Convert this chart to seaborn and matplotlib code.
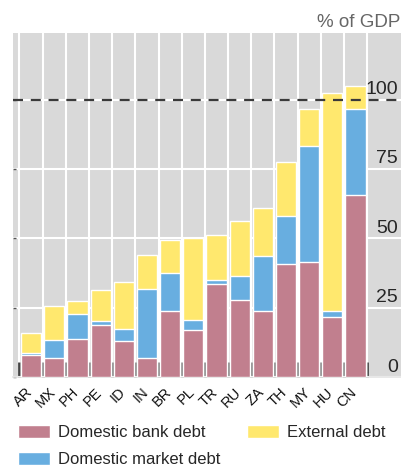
import matplotlib
matplotlib.use("Agg")
import matplotlib.pyplot as plt
import matplotlib.transforms as mtransforms
import numpy as np
import pandas as pd
import seaborn as sns

# values, % of GDP
countries = ["AR", "MX", "PH", "PE", "ID", "IN", "BR", "PL", "TR", "RU", "ZA", "TH", "MY", "HU", "CN"]
bank_debt = [7.9, 7.0, 13.7, 18.8, 13.0, 7.0, 23.8, 17.0, 33.6, 27.8, 23.8, 40.8, 41.5, 21.7, 65.7]
market_debt = [0.8, 6.4, 9.0, 1.4, 4.3, 24.8, 13.7, 3.6, 1.4, 8.7, 19.9, 17.3, 41.6, 2.1, 31.0]
external_debt = [7.0, 12.2, 4.7, 11.2, 17.0, 12.2, 12.0, 29.6, 16.3, 19.8, 17.3, 19.5, 13.6, 78.4, 8.3]
y_ticks = [0, 25, 50, 75, 100]

c_bank = "#c17f8e"
c_market = "#68aee0"
c_ext = "#ffe86e"

df = pd.DataFrame({"country": countries, "bank": bank_debt,
                   "market": market_debt, "external": external_debt})
df["bank_market"] = df["bank"] + df["market"]
df["total"] = df["bank_market"] + df["external"]

sns.set_theme(style="white")
plt.rcParams["font.family"] = ["Liberation Sans", "DejaVu Sans"]

fig = plt.figure(figsize=(4.01, 4.69), dpi=100)
ax = fig.add_axes([13 / 401, 92 / 469, 388 / 401, 344 / 469])
ax.set_facecolor("#d9d9d9")

# stacked bars drawn as overlapping cumulative heights
sns.barplot(data=df, x="country", y="total", color=c_ext, width=0.87,
            saturation=1, ax=ax, label="External debt", zorder=3)
sns.barplot(data=df, x="country", y="bank_market", color=c_market, width=0.87,
            saturation=1, ax=ax, label="Domestic market debt", zorder=3)
sns.barplot(data=df, x="country", y="bank", color=c_bank, width=0.87,
            saturation=1, ax=ax, label="Domestic bank debt", zorder=3)
handles, labels = ax.get_legend_handles_labels()
if ax.get_legend() is not None:
    ax.get_legend().remove()

n = len(countries)
ax.set_xlim(-0.78, n + 0.96)
ax.set_ylim(0, 124)
ax.set_xlabel("")
ax.set_ylabel("")
for s in ax.spines.values():
    s.set_visible(False)
ax.spines["bottom"].set_visible(True)
ax.spines["bottom"].set_color("#e4e4e4")
ax.spines["bottom"].set_linewidth(1.2)

# grid: white lines at category boundaries and y ticks
ax.set_xticks(np.arange(n))
ax.set_xticks(np.arange(n + 1) - 0.5, minor=True)
ax.set_yticks(y_ticks)
ax.grid(False)
ax.grid(True, axis="x", which="minor", color="white", lw=1.5, zorder=1)
ax.grid(True, axis="y", which="major", color="white", lw=1.5, zorder=1)
ax.set_axisbelow(True)
ax.axhline(100, color="#3a3a3a", lw=1.6, ls=(0, (4.5, 3.5)), zorder=4)

ax.tick_params(axis="x", which="major", length=0, pad=0, labelsize=10.5, labelcolor="#111111")
ax.tick_params(axis="x", which="minor", direction="in", length=11, width=2, color="#444444",
               bottom=True)
ax.set_xticklabels(countries, rotation=45, ha="right", va="center", rotation_mode="anchor")
for lab in ax.get_xticklabels():
    lab.set_transform(lab.get_transform() + mtransforms.ScaledTranslation(-1 / 100, -13 / 100, fig.dpi_scale_trans))

ax.tick_params(axis="y", left=True, right=False, labelleft=False, labelright=True,
               direction="in", length=2, width=1, color="#555555", labelsize=14, pad=0)
ax.set_yticklabels([str(t) for t in y_ticks])
for lab in ax.get_yticklabels():
    lab.set_horizontalalignment("right")
    lab.set_transform(lab.get_transform() + mtransforms.ScaledTranslation(-3 / 100, 12 / 100, fig.dpi_scale_trans))

fig.text(0.999, 1 - 27 / 469, "% of GDP", ha="right", va="baseline", fontsize=13.5, color="#666666")

order = [labels.index("Domestic bank debt"), labels.index("Domestic market debt"), labels.index("External debt")]
fig.legend([handles[i] for i in order], [labels[i] for i in order],
           loc="upper left", bbox_to_anchor=(18 / 401, 1 - 425 / 469), ncol=2, frameon=False,
           fontsize=12, borderpad=0, borderaxespad=0, handlelength=1.9, handleheight=0.8,
           handletextpad=0.5, columnspacing=1.6, labelspacing=0.7)

fig.savefig("out.png", dpi=100)
